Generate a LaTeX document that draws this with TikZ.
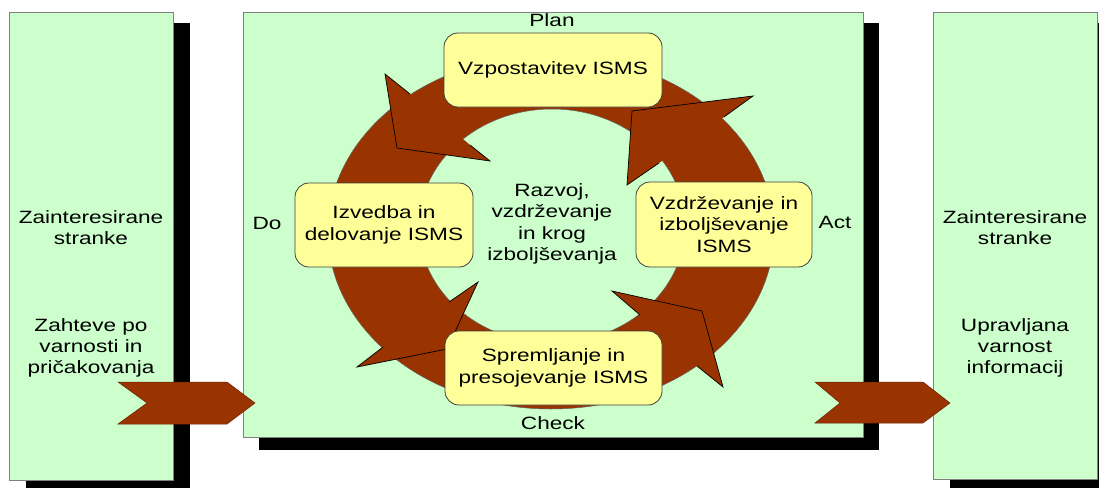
\documentclass[tikz,border=0pt]{standalone}
\usepackage{fontspec}
\setmainfont{Liberation Sans}[FakeStretch=1.27]
\definecolor{panelgreen}{HTML}{CCFFCC}
\definecolor{ringbrown}{HTML}{993300}
\definecolor{boxyellow}{HTML}{FFFF99}
\definecolor{panelgray}{HTML}{808080}
\begin{document}
\begin{tikzpicture}[x=1pt,y=-1pt,
  panel/.style={draw=panelgray, line width=1pt, fill=panelgreen, inner sep=0pt, anchor=north west},
  shadowfill/.style={fill=black},
  stage/.style={draw=black!75, line width=0.8pt, fill=boxyellow, rounded corners=14pt,
    align=center, inner sep=0pt, font=\fontsize{17.8}{21.3}\selectfont},
  lbl/.style={align=center, inner sep=0pt, font=\fontsize{17.8}{21.3}\selectfont},
  headline/.style={draw=black, line width=0.7pt, line join=miter},
  chevron/.style={fill=ringbrown, draw=ringbrown!70!black, line width=0.5pt}
]
\useasboundingbox (0,0) rectangle (1099,487);
\clip (0,0) rectangle (1099,487);
\fill[white] (0,0) rectangle (1099,487);

% shadows
\fill[shadowfill] (26,23) rectangle (190,495);
\fill[shadowfill] (259,23) rectangle (879,450);
\fill[shadowfill] (950,23) rectangle (1114,495);

% panels
\node[panel, minimum width=164pt, minimum height=468pt] (lp) at (9,12) {};
\node[panel, minimum width=620pt, minimum height=425pt] (mp) at (243,12) {};
\node[panel, minimum width=164pt, minimum height=467pt] (rp) at (933,12) {};

% ring
\path[fill=ringbrown, draw=black!60, line width=0.5pt, even odd rule]
  (551,232) ellipse [x radius=223pt, y radius=177pt]
  (552,226) ellipse [x radius=133pt, y radius=117pt];

% arrow heads
\fill[ringbrown] (410,94) -- (385,74) -- (397,148) -- (490,161) -- (470,145) -- cycle;
\draw[headline] (410,94) -- (385,74) -- (397,148) -- (490,161) -- (470,145);
\fill[ringbrown] (449,302) -- (478,282) -- (447,349) -- (357,367) -- (383,347) -- cycle;
\draw[headline] (449,302) -- (478,282) -- (447,349) -- (357,367) -- (383,347);
\fill[ringbrown] (640,315) -- (612,291) -- (702,311) -- (723,387) -- (697,366) -- cycle;
\draw[headline] (640,315) -- (612,291) -- (702,311) -- (723,387) -- (697,366);
\fill[ringbrown] (724,117) -- (753,96) -- (632,111) -- (627,185) -- (659,163) -- cycle;
\draw[headline] (724,117) -- (753,96) -- (632,111) -- (627,185) -- (659,163);

% stage boxes
\node[stage, minimum width=218pt, minimum height=74pt] (plan) at (553,70) {Vzpostavitev ISMS};
\node[stage, minimum width=178pt, minimum height=84pt] (do) at (384,225) {Izvedba in\\delovanje ISMS};
\node[stage, minimum width=176pt, minimum height=85pt] (act) at (724,224.5) {Vzdrževanje in\\izboljševanje\\ISMS};
\node[stage, minimum width=217pt, minimum height=74pt] (check) at (553.5,368) {Spremljanje in\\presojevanje ISMS};

% labels
\node[lbl] (lplan) at (552,20.5) {Plan};
\node[lbl] (ldo) at (267,223.6) {Do};
\node[lbl] (lact) at (835,222.5) {Act};
\node[lbl] (lcheck) at (553,423.5) {Check};
\node[lbl] (center) at (552,224) {Razvoj,\\vzdrževanje\\in krog\\izboljševanja};

\node[lbl] (lt1) at (91,227.5) {Zainteresirane\\stranke};
\node[lbl] (lt2) at (91,348) {Zahteve po\\varnosti in\\pričakovanja};
\node[lbl] (rt1) at (1015,227.5) {Zainteresirane\\stranke};
\node[lbl] (rt2) at (1015,348) {Upravljana\\varnost\\informacij};

% chevrons
\path[chevron] (118,382) -- (227,382) -- (255,403) -- (227,424) -- (118,424) -- (147,403) -- cycle;
\path[chevron] (815,382) -- (923,382) -- (950,403) -- (923,423) -- (815,423) -- (840,403) -- cycle;
\end{tikzpicture}
\end{document}
